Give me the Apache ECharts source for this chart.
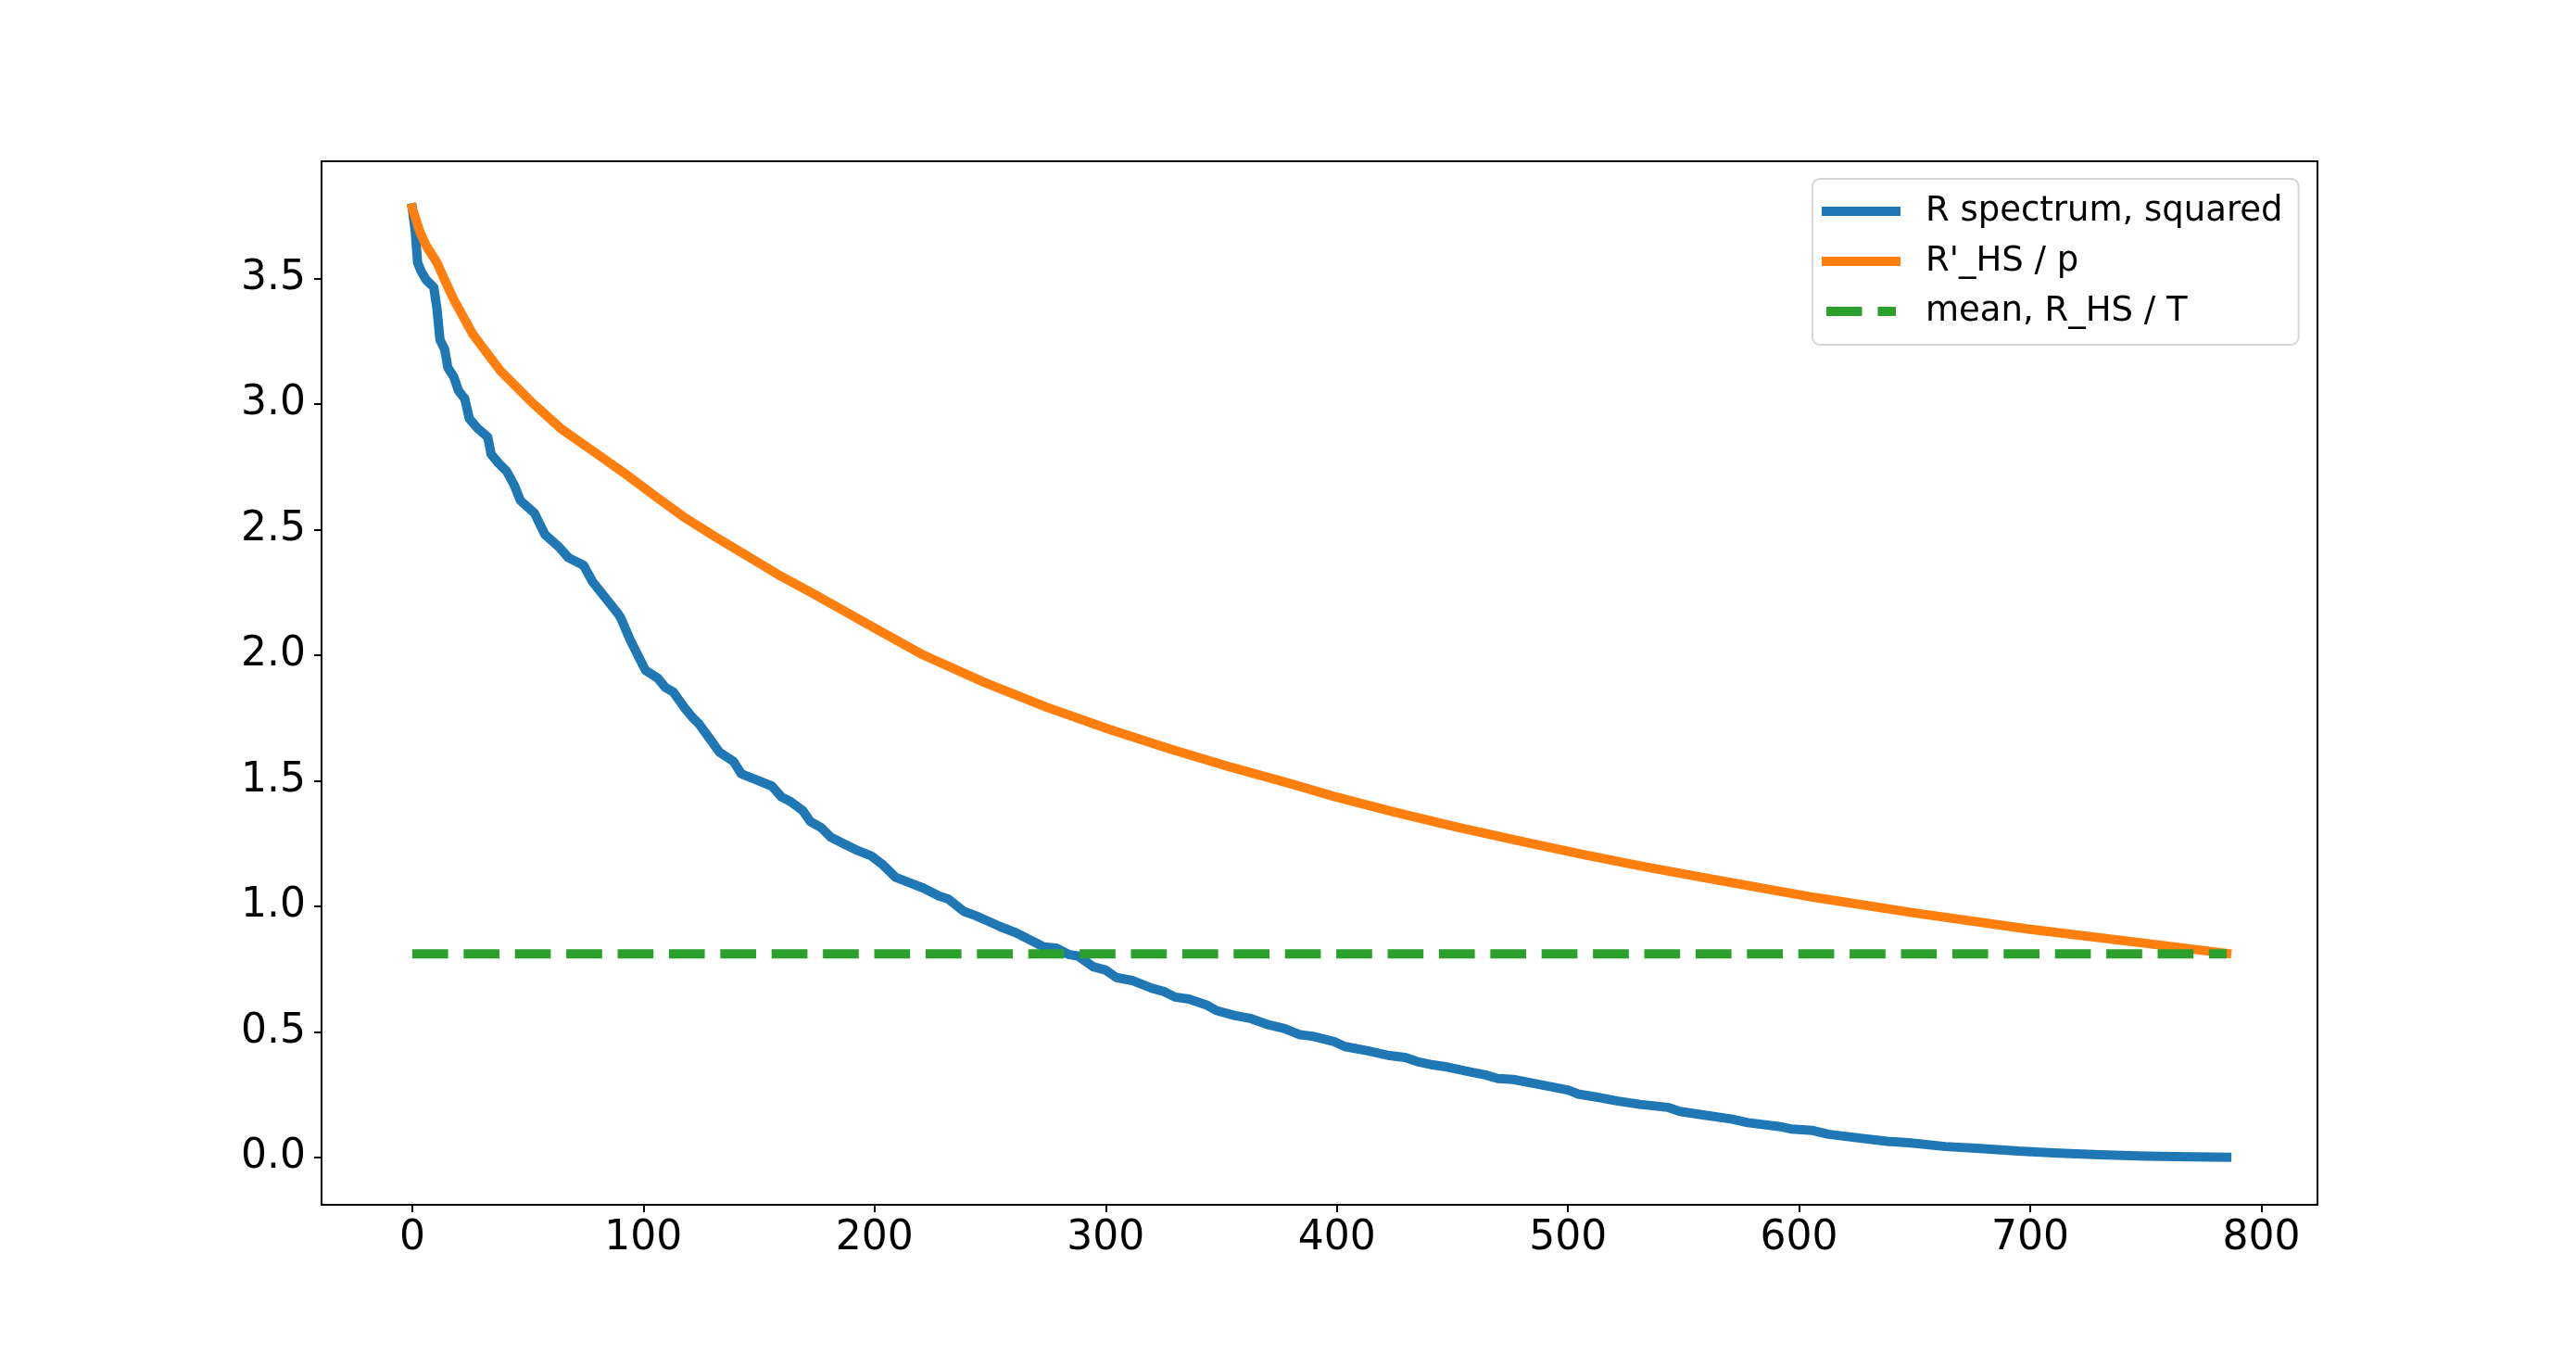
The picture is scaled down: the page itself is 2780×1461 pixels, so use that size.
<!DOCTYPE html>
<html>
<head>
<meta charset="utf-8">
<title>R spectrum</title>
<script src="https://cdn.jsdelivr.net/npm/echarts@6/dist/echarts.min.js"></script>
<style>
  html, body { margin: 0; padding: 0; background: #fff; }
  #chart { width: 2780px; height: 1461px; }
</style>
</head>
<body>
<div id="chart"></div>
<script>
// values
var specX = [0, 1.3, 2.3, 4.0, 6.0, 9.3, 10.7, 12.0, 14.0, 15.4, 18.0, 20.0, 22.7, 24.7, 28.1, 32.7, 34.1, 37.4, 40.8, 44.1,
    46.8, 52.8, 57.4, 63.4, 67.5, 74.1, 78.2, 83.5, 88.9, 90.2, 94.2, 98.2, 100.9, 106.2, 109.5, 112.9, 118.2, 120.9, 124.2, 127.6,
    132.9, 139.0, 142.3, 149.0, 155.6, 159.7, 163.7, 169.0, 172.3, 177.0, 181.0, 187.7, 193.1, 198.4, 203.7, 209.1, 215.8, 221.1, 227.8, 231.8,
    238.5, 243.8, 248.5, 254.5, 261.2, 267.9, 273.2, 278.6, 283.9, 287.9, 294.6, 299.9, 304.6, 311.9, 320.0, 325.3, 330.0, 336.0, 344.0, 348.0,
    356.0, 362.7, 370.7, 377.4, 384.1, 389.5, 398.8, 403.5, 413.5, 422.8, 429.5, 434.9, 441.6, 446.9, 456.2, 464.3, 469.6, 476.3, 487.0, 493.7,
    500.3, 504.3, 512.3, 521.7, 531.1, 543.1, 548.4, 559.1, 571.1, 577.8, 591.2, 596.5, 605.9, 612.6, 623.2, 638.0, 647.3, 663.3, 676.7, 687.4,
    694.7, 710, 730, 750, 770, 785];
var specY = [3.78, 3.685, 3.562, 3.525, 3.494, 3.464, 3.378, 3.255, 3.218, 3.144, 3.107, 3.052, 3.021, 2.941, 2.904, 2.867, 2.80, 2.763, 2.732, 2.677,
    2.615, 2.566, 2.480, 2.431, 2.388, 2.357, 2.289, 2.228, 2.166, 2.148, 2.062, 1.988, 1.939, 1.908, 1.871, 1.853, 1.785, 1.755, 1.724, 1.681,
    1.613, 1.576, 1.527, 1.502, 1.478, 1.435, 1.416, 1.380, 1.336, 1.312, 1.275, 1.244, 1.220, 1.201, 1.164, 1.115, 1.091, 1.072, 1.041, 1.029,
    0.980, 0.962, 0.943, 0.918, 0.894, 0.863, 0.838, 0.833, 0.808, 0.802, 0.759, 0.746, 0.716, 0.703, 0.673, 0.660, 0.638, 0.630, 0.605, 0.584,
    0.564, 0.553, 0.527, 0.513, 0.488, 0.482, 0.461, 0.441, 0.424, 0.405, 0.398, 0.381, 0.368, 0.361, 0.343, 0.328, 0.314, 0.310, 0.291, 0.279,
    0.267, 0.252, 0.240, 0.224, 0.211, 0.199, 0.183, 0.168, 0.152, 0.138, 0.123, 0.113, 0.107, 0.092, 0.080, 0.064, 0.058, 0.043, 0.036, 0.030,
    0.025, 0.018, 0.010, 0.005, 0.002, 0.000];

var hsX = [0, 3.3, 6.0, 10.7, 14.0, 18.0, 26.1, 38.1, 51.4, 64.8, 78.2, 91.5, 104.9, 118.2, 131.6, 145.0, 158.3, 171.7, 185.0, 194.4,
    221.1, 247.8, 274.5, 301.3, 328.0, 354.7, 381.4, 398.8, 425.5, 452.2, 479.0, 505.7, 532.4, 559.1, 585.8, 606.5, 650, 700, 750, 785];
var hsY = [3.78, 3.685, 3.630, 3.562, 3.494, 3.415, 3.279, 3.132, 3.009, 2.898, 2.812, 2.726, 2.634, 2.545, 2.468, 2.394, 2.320, 2.253, 2.185, 2.136,
    2.000, 1.890, 1.792, 1.705, 1.626, 1.552, 1.484, 1.437, 1.373, 1.314, 1.260, 1.207, 1.158, 1.113, 1.069, 1.035, 0.973, 0.908, 0.852, 0.812];

var meanX = [0, 785];
var meanY = [0.81, 0.81];

var xTicks = [0, 100, 200, 300, 400, 500, 600, 700, 800];
var yTicks = [0.0, 0.5, 1.0, 1.5, 2.0, 2.5, 3.0, 3.5];

var names = ['R spectrum, squared', "R'_HS / p", 'mean, R_HS / T'];

function pairs(xs, ys) {
    var out = [];
    for (var i = 0; i < xs.length; i++) {
        out.push([xs[i], ys[i]]);
    }
    return out;
}

var FONT = 'DejaVu Sans';
var myChart = echarts.init(document.getElementById('chart'), null, { renderer: 'canvas' });

var option = {
    animation: false,
    backgroundColor: '#ffffff',
    grid: {
        left: 347, right: 279, top: 174, bottom: 161,
        show: true,
        borderColor: '#000',
        borderWidth: 2,
        backgroundColor: 'transparent'
    },
    legend: {
        left: 1956,
        top: 193,
        orient: 'vertical',
        selectedMode: false,
        itemWidth: 85,
        itemHeight: 10,
        itemGap: 10,
        padding: [13, 17, 14, 10],
        backgroundColor: 'rgba(255,255,255,0.8)',
        borderColor: 'rgba(204,204,204,0.8)',
        borderWidth: 2,
        borderRadius: 8,
        itemStyle: { borderWidth: 0 },
        textStyle: {
            fontFamily: FONT,
            fontSize: 37,
            lineHeight: 44,
            color: '#000',
            padding: [0, 0, 0, 22]
        },
        data: [
            { name: names[0], icon: 'rect' },
            { name: names[1], icon: 'rect' },
            { name: names[2], icon: 'path://M0,0M85,10M5,0h38.5v10h-38.5zM60.5,0h19.5v10h-19.5z' }
        ]
    },
    xAxis: {
        type: 'value',
        min: -39.25,
        max: 824.25,
        splitLine: { show: false },
        axisLine: { show: true, onZero: false, lineStyle: { color: '#000', width: 2 } },
        axisTick: { show: true, length: 8, lineStyle: { color: '#000', width: 2 }, customValues: xTicks },
        axisLabel: {
            customValues: xTicks,
            fontFamily: FONT, fontSize: 44, color: '#000', margin: 15,
            formatter: function(v) { return String(v); }
        }
    },
    yAxis: {
        type: 'value',
        min: -0.189,
        max: 3.966,
        splitLine: { show: false },
        axisLine: { show: true, onZero: false, lineStyle: { color: '#000', width: 2 } },
        axisTick: { show: true, length: 8, lineStyle: { color: '#000', width: 2 }, customValues: yTicks },
        axisLabel: {
            customValues: yTicks,
            fontFamily: FONT, fontSize: 44, color: '#000', margin: 17,
            formatter: function(v) { return v.toFixed(1); }
        }
    },
    series: [
        {
            name: names[0],
            type: 'line',
            color: '#1f77b4',
            showSymbol: false,
            symbol: 'none',
            lineStyle: { width: 10, cap: 'square', join: 'round' },
            data: pairs(specX, specY)
        },
        {
            name: names[1],
            type: 'line',
            color: '#ff7f0e',
            showSymbol: false,
            symbol: 'none',
            lineStyle: { width: 10, cap: 'square', join: 'round' },
            data: pairs(hsX, hsY)
        },
        {
            name: names[2],
            type: 'line',
            color: '#2ca02c',
            showSymbol: false,
            symbol: 'none',
            lineStyle: { width: 10, type: [38.7, 16.7], cap: 'butt' },
            data: pairs(meanX, meanY)
        }
    ]
};

myChart.setOption(option);
</script>
</body>
</html>
